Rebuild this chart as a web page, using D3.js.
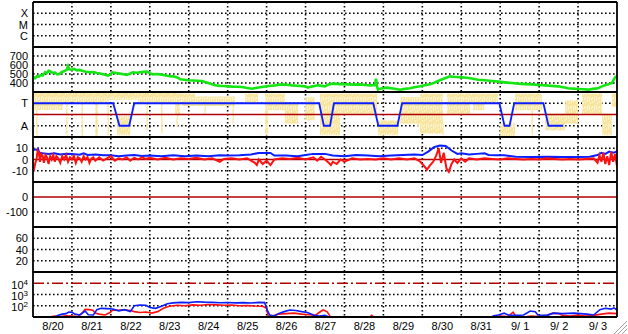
<!DOCTYPE html>
<html>
<head>
<meta charset="utf-8">
<script src="https://cdn.jsdelivr.net/npm/d3@7"></script>
<style>
  html, body { margin: 0; padding: 0; background: #fff; }
  svg { display: block; font-family: 'Liberation Sans', Arial, sans-serif; }
</style>
</head>
<body>
<svg id="chart" width="628" height="334"></svg>
<script>
// time is in days counted from 8/20 00:00
var dayLabels = ['8/20', '8/21', '8/22', '8/23', '8/24', '8/25', '8/26', '8/27',
  '8/28', '8/29', '8/30', '8/31', '9/ 1', '9/ 2', '9/ 3']

// tick labels of each strip, top to bottom
var modeTicks = [[3, 'X'], [2, 'M'], [1, 'C']]
var speedTicks = [700, 600, 500, 400]
var stateTicks = [[3, 'T'], [1, 'A']]
var diffTicks = [10, 0, -10]
var offsetTicks = [0, -100]
var loadTicks = [60, 40, 20]
var countTicks = [1e4, 1e3, 1e2]

// strip 2 : speed
var speedLine = [
  [0.00, 440], [0.03, 462], [0.06, 455], [0.10, 475], [0.15, 470], [0.20, 488],
  [0.25, 482], [0.31, 520], [0.36, 512], [0.40, 535], [0.45, 528], [0.51, 510],
  [0.56, 518], [0.62, 495], [0.68, 500], [0.74, 522], [0.80, 530], [0.87, 548],
  [0.90, 585], [0.93, 552], [1.00, 548], [1.06, 556], [1.13, 540], [1.20, 545],
  [1.28, 533], [1.36, 526], [1.46, 519], [1.55, 522], [1.64, 511], [1.72, 505],
  [1.80, 496], [1.87, 488], [1.93, 481], [2.00, 500], [2.05, 519], [2.13, 512],
  [2.23, 504], [2.32, 497], [2.41, 489], [2.50, 505], [2.57, 519], [2.66, 514],
  [2.75, 519], [2.84, 524], [2.93, 526], [3.00, 510], [3.08, 496], [3.17, 500],
  [3.26, 496], [3.35, 488], [3.44, 481], [3.52, 476], [3.60, 474], [3.66, 468],
  [3.72, 459], [3.78, 441], [3.88, 436], [3.98, 430], [4.10, 428], [4.22, 425],
  [4.34, 422], [4.42, 410], [4.50, 400], [4.60, 385], [4.68, 374], [4.80, 368],
  [4.90, 366], [5.01, 363], [5.12, 360], [5.25, 358], [5.37, 356], [5.50, 345],
  [5.63, 337], [5.75, 348], [5.88, 356], [6.05, 366], [6.22, 374], [6.30, 380],
  [6.40, 385], [6.52, 380], [6.65, 374], [6.80, 370], [6.99, 363], [7.06, 348],
  [7.15, 360], [7.32, 374], [7.42, 368], [7.50, 363], [7.60, 385], [7.71, 393],
  [7.90, 388], [8.07, 385], [8.25, 382], [8.40, 385], [8.55, 378], [8.66, 374],
  [8.78, 378], [8.81, 448], [8.83, 370], [8.86, 326], [8.95, 340], [9.09, 348],
  [9.25, 338], [9.43, 326], [9.55, 335], [9.68, 341], [9.80, 352], [9.94, 363],
  [10.06, 374], [10.20, 385], [10.32, 405], [10.45, 430], [10.58, 452], [10.71, 474],
  [10.80, 470], [10.89, 467], [11.02, 463], [11.15, 459], [11.30, 448], [11.43, 437],
  [11.60, 430], [11.79, 422], [11.95, 415], [12.12, 407], [12.30, 400], [12.46, 393],
  [12.65, 388], [12.82, 385], [13.00, 378], [13.15, 374], [13.32, 368], [13.49, 363],
  [13.62, 352], [13.74, 341], [13.87, 337], [14.00, 333], [14.13, 330], [14.26, 326],
  [14.38, 335], [14.51, 341], [14.60, 360], [14.69, 374], [14.78, 385], [14.87, 400],
  [14.92, 440], [14.96, 467], [15.00, 470]
]

// strip 3 : state (T = 3, A = 1)
var stateLine = [
  [0, 3], [2.06, 3], [2.22, 1], [2.47, 1], [2.60, 3], [7.35, 3], [7.47, 1],
  [7.63, 1], [7.73, 3], [8.74, 3], [8.87, 1], [9.36, 1], [9.48, 3], [11.98, 3],
  [12.11, 1], [12.24, 1], [12.36, 3], [13.11, 3], [13.24, 1], [13.62, 1]
]
var stateRef = 2

// strip 3 : scattered samples, [from, to, high, low]
var stateScatter = [
  [0.00, 1.90, 3.95, 3.10], [0.00, 0.77, 3.95, 2.40], [0.08, 0.12, 3.90, 0.10],
  [0.85, 0.89, 3.90, 0.10], [1.24, 1.28, 3.90, 0.10], [1.60, 1.67, 3.90, 0.10],
  [1.91, 1.95, 3.90, 0.10], [1.90, 2.70, 3.95, 3.30], [2.16, 2.50, 1.90, 0.15],
  [2.70, 3.80, 3.95, 3.00], [2.91, 2.95, 3.90, 0.60], [3.29, 3.33, 3.90, 0.30],
  [3.68, 3.72, 3.90, 0.90], [3.65, 3.78, 3.90, 1.93], [3.65, 4.16, 3.85, 3.26],
  [3.83, 5.19, 3.60, 2.75], [4.40, 4.44, 3.60, 2.07], [5.12, 5.16, 3.60, 1.19],
  [5.45, 5.78, 3.85, 2.96], [5.96, 6.04, 3.85, 0.15], [6.04, 6.47, 3.85, 2.37],
  [6.47, 6.81, 2.96, 1.19], [6.99, 7.24, 3.56, 1.48], [7.37, 7.89, 3.85, 0.15],
  [7.89, 8.40, 3.85, 2.07], [8.40, 8.84, 3.85, 2.07], [8.86, 9.38, 1.48, 0.15],
  [9.43, 9.94, 3.56, 1.19], [9.87, 9.91, 3.56, 0.89], [9.94, 10.53, 3.85, 0.30],
  [10.51, 10.55, 1.19, 0.15], [10.63, 11.23, 3.85, 2.07], [11.10, 11.94, 3.85, 3.11],
  [11.30, 11.60, 3.11, 2.37], [12.00, 12.38, 1.19, 0.06], [12.38, 13.07, 3.85, 2.37],
  [12.80, 12.84, 3.85, 0.15], [13.15, 13.67, 2.07, 0.59], [13.67, 14.00, 3.26, 1.19],
  [14.10, 14.62, 3.85, 2.07], [14.62, 14.87, 2.07, 0.15], [14.87, 15.00, 3.85, 2.66]
]

// strip 4 : difference
var diffBlue = [
  [0.00, 8], [0.05, 9], [0.10, 8.5], [0.13, 9.5], [0.16, 6], [0.25, 5.5], [0.40, 5],
  [0.55, 5.5], [0.70, 4.5], [0.85, 5], [1.00, 4.8], [1.20, 4.2], [1.30, 5.5],
  [1.40, 4], [1.60, 4.5], [1.80, 3.7], [2.00, 3.7], [2.20, 3], [2.40, 3.5], [2.60, 4],
  [2.80, 3.2], [3.00, 3.5], [3.30, 3], [3.60, 3.7], [3.90, 3], [4.20, 3.5], [4.50, 3],
  [4.80, 3.7], [5.00, 3.5], [5.30, 3.8], [5.60, 4.5], [5.80, 5.8], [6.10, 5.8],
  [6.20, 3.5], [6.50, 3.5], [6.80, 3], [7.00, 4], [7.20, 5], [7.50, 5], [7.70, 3.5],
  [8.00, 3], [8.30, 4], [8.60, 3.5], [8.90, 3], [9.20, 3.5], [9.50, 4], [9.80, 4.5],
  [10.00, 4], [10.15, 7], [10.30, 11], [10.45, 12.5], [10.60, 12], [10.75, 8],
  [10.90, 5], [11.00, 5.5], [11.20, 4.5], [11.40, 5], [11.60, 5.5], [11.70, 4],
  [11.90, 3.7], [12.10, 3.7], [12.40, 2.5], [12.80, 2.2], [13.20, 2.5], [13.60, 2.2],
  [14.00, 2.2], [14.30, 2.5], [14.50, 4], [14.60, 6], [14.70, 5], [14.80, 7],
  [14.90, 6], [15.00, 7]
]
var diffRed = [
  [0.00, -6], [0.03, -8], [0.06, -3], [0.09, 0], [0.12, 8], [0.15, 6], [0.18, -2],
  [0.21, 5], [0.25, 3], [0.28, -3], [0.32, 4], [0.36, 2], [0.40, -4], [0.44, 3],
  [0.48, 0], [0.52, 4], [0.56, -2], [0.60, 3], [0.65, 1], [0.70, -3], [0.75, 3],
  [0.80, 0], [0.85, 4], [0.90, -2], [0.95, 2], [1.00, 0], [1.05, 3], [1.10, -3],
  [1.15, 2], [1.20, 1], [1.25, -2], [1.30, 3], [1.35, 0], [1.40, 2], [1.45, -3],
  [1.50, 1], [1.55, 2], [1.60, -1], [1.70, 2], [1.80, -1], [1.90, 1], [2.00, 3],
  [2.10, -1], [2.20, 1], [2.30, 0], [2.40, 2], [2.50, -1], [2.60, 1.5], [2.70, 0],
  [2.80, 2], [2.90, 0.5], [3.00, 1.5], [3.20, 0], [3.40, 1.5], [3.60, 0], [3.80, 1],
  [4.00, 0.5], [4.20, 1.5], [4.40, 0], [4.60, 1], [4.80, -2], [4.90, 0.5], [5.10, 1],
  [5.30, 0], [5.50, 1], [5.70, -3], [5.75, -5], [5.80, 0], [5.90, -4], [6.00, -1],
  [6.10, -5], [6.20, 0], [6.40, 1], [6.60, 0.5], [6.80, 1.5], [7.00, 0], [7.20, 2],
  [7.30, -1], [7.40, 2.5], [7.50, 0], [7.60, -3], [7.65, -5], [7.70, -2], [7.80, -4],
  [7.90, 0], [8.00, -2], [8.20, 1], [8.40, 0], [8.60, 0.5], [8.80, 0], [9.00, 1],
  [9.20, 0], [9.40, 1], [9.60, 0], [9.80, 1], [9.95, -2], [10.05, -6], [10.12, -9],
  [10.20, -5], [10.28, -2], [10.35, 3], [10.42, 10], [10.48, -3], [10.55, 6],
  [10.62, -8], [10.68, -11], [10.75, -4], [10.82, 0], [10.90, -3], [11.00, 1],
  [11.10, -2], [11.20, 1], [11.40, 0], [11.60, 1], [11.80, 0.5], [12.00, 0],
  [12.20, 1], [12.40, 0.5], [12.60, 0], [12.80, 0.5], [13.00, 0], [13.20, 1],
  [13.40, 0.5], [13.60, 0], [13.80, 0.5], [14.00, 0], [14.20, 0.5], [14.40, 1],
  [14.50, -3], [14.55, 4], [14.60, -2], [14.65, 6], [14.70, -4], [14.75, 3],
  [14.80, -5], [14.85, 7], [14.90, -2], [14.95, 5], [15.00, -6]
]
var diffRef = 0

// strip 5 : offset reference
var offsetRef = 0

// strip 7 : counts (log), null = no data
var countRed = [
  [0.44, 10], [0.55, 12], [0.70, 11], [0.85, 13], [1.00, 12], [1.15, 11], [1.25, 20],
  [1.34, 48], [1.45, 45], [1.54, 40], [1.60, 22], [1.70, 18], [1.85, 15], [1.98, 25],
  [2.05, 42], [2.20, 40], [2.35, 44], [2.50, 38], [2.60, 30], [2.75, 25], [2.90, 28],
  [3.05, 22], [3.20, 30], [3.35, 60], [3.50, 90], [3.70, 110], [3.90, 100],
  [4.10, 120], [4.30, 110], [4.50, 130], [4.70, 120], [4.90, 110], [5.10, 115],
  [5.30, 100], [5.50, 105], [5.70, 95], [5.90, 90], [6.00, 60], [6.04, 12],
  [6.10, 10], [6.20, 14], [6.30, 18], [6.50, 20], [6.70, 22], [6.90, 18], [7.10, 16],
  [7.25, 14], [7.35, 25], [7.45, 42], [7.55, 30], [7.63, 12], [7.64, null],
  [8.65, 10], [8.70, 14], [8.75, 10], [8.76, null],
  [11.90, 10], [12.00, 12], [12.20, 11], [12.33, 27], [12.40, 12], [12.60, 10],
  [12.80, 12], [13.00, 11], [13.20, 14], [13.36, 22], [13.50, 20], [13.60, 14],
  [13.80, 12], [14.00, 15], [14.20, 12], [14.40, 14], [14.60, 18], [14.80, 22],
  [15.00, 20]
]
var countBlue = [
  [0.57, 10], [0.65, 14], [0.75, 18], [0.85, 20], [0.92, 28], [1.00, 26], [1.08, 18],
  [1.20, 15], [1.34, 34], [1.42, 16], [1.55, 15], [1.64, 45], [1.75, 59], [1.90, 55],
  [2.05, 51], [2.20, 35], [2.35, 45], [2.50, 30], [2.60, 100], [2.75, 117],
  [2.90, 110], [3.00, 70], [3.15, 59], [3.30, 90], [3.45, 150], [3.60, 180],
  [3.80, 200], [4.00, 190], [4.20, 230], [4.40, 210], [4.60, 200], [4.80, 185],
  [5.00, 195], [5.20, 180], [5.40, 190], [5.60, 175], [5.80, 200], [5.95, 190],
  [6.02, 40], [6.08, 15], [6.20, 12], [6.30, 20], [6.45, 30], [6.60, 42], [6.75, 38],
  [6.90, 30], [7.05, 25], [7.20, 15], [7.35, 12], [7.50, 14], [7.60, 10], [7.61, null],
  [11.80, 12], [11.95, 15], [12.10, 22], [12.20, 15], [12.40, 14], [12.60, 15],
  [12.77, 34], [12.90, 30], [12.97, 15], [13.20, 14], [13.36, 22], [13.60, 20],
  [13.90, 22], [14.23, 18], [14.40, 15], [14.56, 45], [14.70, 59], [14.85, 50],
  [14.92, 65], [15.00, 42]
]
var countRef = 1e4

var svg = d3.select('#chart')
var margin = { top: 2, left: 33, right: 11, bottom: 17 }
var width = 628 - margin.left - margin.right
var height = 334 - margin.top - margin.bottom
var stripCount = 7
var stripH = height / stripCount

var x = d3.scaleLinear().domain([0, dayLabels.length]).range([margin.left, margin.left + width])

function stripScale(i, scale) {
  return scale.range([margin.top + (i + 1) * stripH, margin.top + i * stripH])
}

function labelOf(list) {
  return function (d) {
    return list.find(function (t) { return t[0] === d })[1]
  }
}

function signed(d) {
  return d < 0 ? '-' + Math.abs(d) : String(d)
}

var yMode = stripScale(0, d3.scaleLinear().domain([0, 4]))
var ySpeed = stripScale(1, d3.scaleLinear().domain([300, 800]))
var yState = stripScale(2, d3.scaleLinear().domain([0, 4]))
var yDiff = stripScale(3, d3.scaleLinear().domain([-20, 20]))
var yOffset = stripScale(4, d3.scaleLinear().domain([-200, 100]))
var yLoad = stripScale(5, d3.scaleLinear().domain([0, 80]))
var yCount = stripScale(6, d3.scaleLog().domain([10, 1e5]).clamp(true))

// ref = value covered by a solid reference line, so no dotted grid there
var strips = [
  { y: yMode, ticks: modeTicks.map(function (d) { return d[0] }), fmt: labelOf(modeTicks) },
  { y: ySpeed, ticks: speedTicks, fmt: d3.format('d') },
  { y: yState, ticks: stateTicks.map(function (d) { return d[0] }), fmt: labelOf(stateTicks) },
  { y: yDiff, ticks: diffTicks, fmt: signed, ref: diffRef },
  { y: yOffset, ticks: offsetTicks, fmt: signed, ref: offsetRef },
  { y: yLoad, ticks: loadTicks, fmt: d3.format('d') },
  { y: yCount, ticks: countTicks, fmt: function () { return '10' }, log: true, ref: countRef }
]

var defs = svg.append('defs')

strips.forEach(function (s, i) {
  defs.append('clipPath')
    .attr('id', 'clip' + i)
    .append('rect')
    .attr('x', margin.left)
    .attr('y', margin.top + i * stripH)
    .attr('width', width)
    .attr('height', stripH)
})

// speckled fill for the scattered samples (pale base + vertical streaks)
var pat = defs.append('pattern')
  .attr('id', 'speckle')
  .attr('patternUnits', 'userSpaceOnUse')
  .attr('width', 7)
  .attr('height', 9)
pat.append('rect')
  .attr('width', 7).attr('height', 9)
  .attr('fill', '#fcf4d2')
;[[0, 0, 1, 6], [0, 7, 1, 2], [1, 2, 1, 5], [2, 0, 1, 3], [2, 5, 1, 4], [3, 1, 1, 7],
  [4, 0, 1, 2], [4, 4, 1, 3], [5, 0, 1, 9], [6, 3, 1, 4]].forEach(function (r) {
  pat.append('rect')
    .attr('x', r[0]).attr('y', r[1]).attr('width', r[2]).attr('height', r[3])
    .attr('fill', '#f8e6a0')
})

var grid = svg.append('g').attr('class', 'grid')
var marks = svg.append('g').attr('class', 'marks')
var frame = svg.append('g').attr('class', 'frame')

// horizontal dotted grid + left labels
strips.forEach(function (s, i) {
  grid.selectAll('.h' + i)
    .data(s.ticks.filter(function (d) { return d !== s.ref }))
    .enter()
    .append('line')
    .attr('x1', margin.left)
    .attr('x2', margin.left + width)
    .attr('y1', function (d) { return s.y(d) })
    .attr('y2', function (d) { return s.y(d) })
    .attr('stroke', '#000')
    .attr('stroke-width', 1.6)
    .attr('stroke-dasharray', '1.6,2.4')

  var ax = frame.append('g')
    .attr('transform', 'translate(' + (margin.left - 1) + ',0)')
    .call(d3.axisLeft(s.y).tickValues(s.ticks).tickFormat(s.fmt).tickSize(0).tickPadding(4))
  ax.select('.domain').remove()
  ax.selectAll('text')
    .attr('font-size', 11)
    .attr('font-family', 'Liberation Sans, Arial, sans-serif')
    .attr('fill', '#000')
  if (s.log) {
    ax.selectAll('text').each(function (d) {
      d3.select(this)
        .attr('dy', '0.45em')
        .append('tspan')
        .attr('dy', '-0.5em')
        .attr('font-size', 8)
        .text(Math.round(Math.log10(d)))
    })
  }
})

// vertical dotted day grid
grid.selectAll('.v')
  .data(d3.range(1, dayLabels.length))
  .enter()
  .append('line')
  .attr('x1', function (d) { return x(d) })
  .attr('x2', function (d) { return x(d) })
  .attr('y1', margin.top)
  .attr('y2', margin.top + height)
  .attr('stroke', '#000')
  .attr('stroke-width', 1.6)
  .attr('stroke-dasharray', '1.6,2.4')

// reference lines
function refLine(scale, v, dash) {
  marks.append('line')
    .attr('x1', margin.left)
    .attr('x2', margin.left + width)
    .attr('y1', scale(v))
    .attr('y2', scale(v))
    .attr('stroke', '#b00000')
    .attr('stroke-width', 1.6)
    .attr('stroke-dasharray', dash || null)
}

function drawLine(i, data, scale, color, w) {
  var line = d3.line()
    .defined(function (d) { return d[1] != null })
    .x(function (d) { return x(d[0]) })
    .y(function (d) { return scale(d[1]) })
  marks.append('path')
    .datum(data)
    .attr('clip-path', 'url(#clip' + i + ')')
    .attr('d', line)
    .attr('fill', 'none')
    .attr('stroke', color)
    .attr('stroke-width', w)
    .attr('stroke-linejoin', 'miter')
}

// strip 2
drawLine(1, speedLine, ySpeed, '#14e614', 2.6)

// strip 3
marks.append('g')
  .attr('clip-path', 'url(#clip2)')
  .selectAll('rect')
  .data(stateScatter)
  .enter()
  .append('rect')
  .attr('x', function (d) { return x(d[0]) })
  .attr('width', function (d) { return Math.max(1.5, x(d[1]) - x(d[0])) })
  .attr('y', function (d) { return yState(d[2]) })
  .attr('height', function (d) { return yState(d[3]) - yState(d[2]) })
  .attr('fill', 'url(#speckle)')
refLine(yState, stateRef)
drawLine(2, stateLine, yState, '#0a1eff', 1.8)

// strip 4
refLine(yDiff, diffRef)
drawLine(3, diffBlue, yDiff, '#0a1eff', 2)
drawLine(3, diffRed, yDiff, '#ff1010', 2)

// strip 5
refLine(yOffset, offsetRef)

// strip 7
refLine(yCount, countRef, '11,3,2,3')
drawLine(6, countRed, yCount, '#ff1010', 1.6)
drawLine(6, countBlue, yCount, '#0a1eff', 1.6)

// strip borders
frame.selectAll('.sep')
  .data(d3.range(stripCount + 1))
  .enter()
  .append('line')
  .attr('x1', margin.left)
  .attr('x2', margin.left + width)
  .attr('y1', function (d) { return margin.top + d * stripH })
  .attr('y2', function (d) { return margin.top + d * stripH })
  .attr('stroke', '#000')
  .attr('stroke-width', 1.8)

frame.selectAll('.edge')
  .data([margin.left, margin.left + width])
  .enter()
  .append('line')
  .attr('x1', function (d) { return d })
  .attr('x2', function (d) { return d })
  .attr('y1', margin.top)
  .attr('y2', margin.top + height)
  .attr('stroke', '#000')
  .attr('stroke-width', 1.8)

// day labels, centred on noon
var xAxis = frame.append('g')
  .attr('transform', 'translate(0,' + (margin.top + height) + ')')
  .call(d3.axisBottom(x)
    .tickValues(d3.range(dayLabels.length).map(function (d) { return d + 0.5 }))
    .tickFormat(function (d, i) { return dayLabels[i] })
    .tickSize(0)
    .tickPadding(5))
xAxis.select('.domain').remove()
xAxis.selectAll('text')
  .attr('font-size', 11)
  .attr('font-family', 'Liberation Sans, Arial, sans-serif')
  .attr('fill', '#000')
  .style('white-space', 'pre')

// window resize grip
var grip = svg.append('g').attr('stroke-width', 1)
;[0, 4, 8].forEach(function (o) {
  grip.append('line')
    .attr('x1', 627).attr('y1', 321 + o).attr('x2', 614 + o).attr('y2', 334)
    .attr('stroke', '#a0a0a0')
  grip.append('line')
    .attr('x1', 627).attr('y1', 322 + o).attr('x2', 615 + o).attr('y2', 334)
    .attr('stroke', '#ffffff')
})
</script>
</body>
</html>
